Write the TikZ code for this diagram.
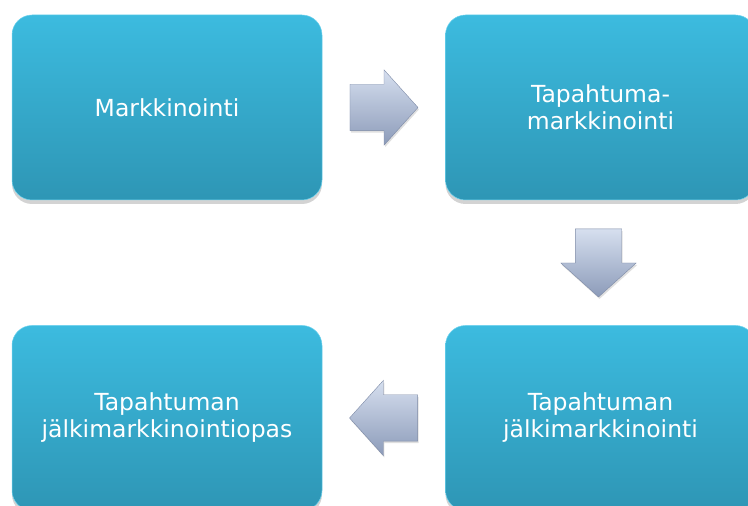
\documentclass[tikz,border=0pt]{standalone}
\usepackage{fontspec}
\setmainfont{DejaVu Sans}
\usetikzlibrary{positioning, calc, shapes.arrows, shadows}
\definecolor{boxtop}{HTML}{3CBBDF}
\definecolor{boxbot}{HTML}{2E96B5}
\definecolor{boxedge}{HTML}{6FD3EE}
\definecolor{arrtop}{HTML}{D6DFEF}
\definecolor{arrbot}{HTML}{8C9BB9}
\definecolor{arredge}{HTML}{7D8AA6}

\begin{document}
\begin{tikzpicture}[x = 1pt, y = 1pt,
    stage/.style = {rectangle, rounded corners = 20pt, minimum width = 310pt, minimum height = 185pt,
      top color = boxtop, bottom color = boxbot, draw = boxedge, line width = 0.5pt,
      text = white, align = center, font = \fontsize{23.5}{27}\selectfont,
      drop shadow = {opacity = 0.35, shadow xshift = 0pt, shadow yshift = -4pt}},
    flowarrow/.style = {single arrow, single arrow head extend = 14.5pt, single arrow tip angle = 96,
      minimum height = 68pt, text height = 0pt, text depth = 0pt, anchor = tail,
      top color = arrtop, bottom color = arrbot, draw = arredge, line width = 0.4pt,
      drop shadow = {opacity = 0.25, shadow xshift = 1pt, shadow yshift = -2pt}},
    across/.style = {inner xsep = 0pt, inner ysep = 23pt},
    along/.style = {inner xsep = 23pt, inner ysep = 0pt}]
  \useasboundingbox (0, 0) rectangle (748, 506);

  % the four stages
  \node[stage] (mark) at (167, 398.5) {Markkinointi};
  \node[stage, right = 123pt of mark] (tap) {Tapahtuma-\\markkinointi};
  \node[stage, below = 125pt of tap] (jalki) {Tapahtuman\\jälkimarkkinointi};
  \node[stage, left = 123pt of jalki] (opas) {Tapahtuman\\jälkimarkkinointiopas};

  % block arrows between them
  \node[flowarrow, across] (m2t) at ($(mark.east)!0.5!(tap.west) + (-34, 0)$) {};
  \node[flowarrow, along, shape border rotate = 270] (t2j) at ($(tap.south)!0.5!(jalki.north) + (-2, 34)$) {};
  \node[flowarrow, across, shape border rotate = 180] (j2o) at ($(jalki.west)!0.5!(opas.east) + (34, 0)$) {};
\end{tikzpicture}
\end{document}
